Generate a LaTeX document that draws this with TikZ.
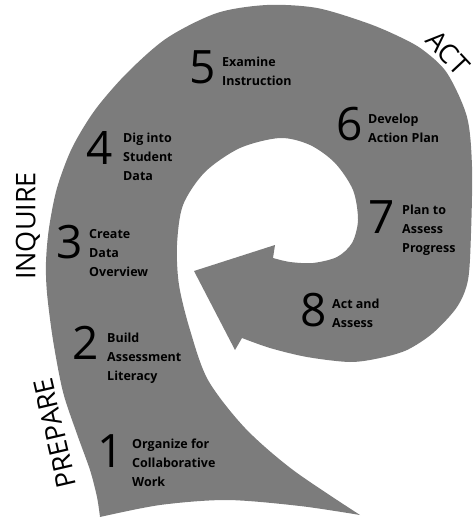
\documentclass[tikz,border=0pt]{standalone}
\usepackage{fontspec}
\setmainfont{Open Sans}
\definecolor{spiralgray}{RGB}{124,124,124}
\begin{document}
\begin{tikzpicture}[x=1pt,y=-1pt,
  num/.style={font=\fontsize{46}{46}\selectfont, inner sep=0pt},
  lab/.style={font=\fontsize{12.5}{19}\selectfont\bfseries, align=left, anchor=west, inner sep=0pt},
  phase/.style={font=\fontsize{27}{27}\selectfont, inner sep=0pt}]
\useasboundingbox (0,0) rectangle (474,518);
\fill[spiralgray]
  plot[smooth] coordinates {(100,517) (160,505) (227,500) (300,506) (360,515)}
  -- plot[smooth] coordinates {(360,515) (293,470) (245,428) (208,380) (190,330) (179,285) (177,245) (183,205) (205,172) (240,148) (280,138) (310,145) (335,163) (353,190) (358,220) (352,243) (337,257) (313,263) (290,262) (273,258)}
  -- (275,245) -- (194,271) -- (235,350) -- (242,338)
  -- plot[smooth] coordinates {(242,338) (270,348) (307,357) (350,362) (380,358) (407,350) (433,333) (457,307) (468,280) (471,233) (472,167) (467,117) (447,73) (423,50) (400,37) (367,23) (317,8) (267,5) (217,13) (167,38) (127,73) (95,110) (72,148) (57,188) (49,228) (46,262) (47,293) (53,340) (63,392) (77,434) (90,470) (97,497) (100,517)}
  -- cycle;
% steps
\node[num] (n1) at (111,451) {1};
\node[lab] (l1) at (132,463) {Organize for\\Collaborative\\Work};
\node[num] (n2) at (86,343) {2};
\node[lab] (l2) at (107,358) {Build\\Assessment\\Literacy};
\node[num] (n3) at (70,242) {3};
\node[lab] (l3) at (89,253) {Create\\Data\\Overview};
\node[num] (n4) at (100,148) {4};
\node[lab] (l4) at (123,157) {Dig into\\Student\\Data};
\node[num] (n5) at (203,67) {5};
\node[lab] (l5) at (222,71) {Examine\\Instruction};
\node[num] (n6) at (350,124) {6};
\node[lab] (l6) at (368,128) {Develop\\Action Plan};
\node[num] (n7) at (382,217) {7};
\node[lab] (l7) at (402,230) {Plan to\\Assess\\Progress};
\node[num] (n8) at (314,310) {8};
\node[lab] (l8) at (332,313) {Act and\\Assess};
% phases
\node[phase, rotate=-47] (act) at (448,53) {ACT};
\node[phase, rotate=90] (inquire) at (28,226) {INQUIRE};
\node[phase, rotate=103] (prepare) at (55,433) {PREPARE};
\end{tikzpicture}
\end{document}
